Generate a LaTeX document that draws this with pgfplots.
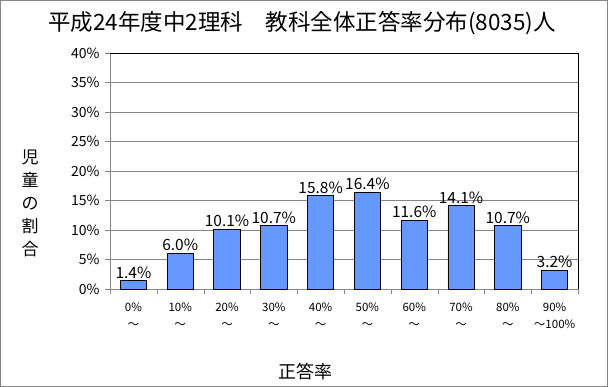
\documentclass[border=0pt]{standalone}
\usepackage{fontspec}
\setmainfont{Noto Sans CJK JP}
\usepackage{pgfplots}
\pgfplotsset{compat=1.18}
\definecolor{barblue}{HTML}{6699FF}
\definecolor{gridgray}{HTML}{868686}
\begin{document}
\begin{tikzpicture}[x=1pt,y=1pt]
\useasboundingbox (0,0) rectangle (608,387);
\draw[gridgray, line width=0.8pt] (0.5,0.5) rectangle (607.5,386.5);
\begin{axis}[
  at={(110pt,98pt)}, anchor=south west,
  scale only axis, width=468pt, height=236pt,
  xmin=-0.5, xmax=9.5, ymin=0, ymax=40,
  ytick={0,5,...,40},
  yticklabel={\pgfmathprintnumber[fixed,precision=0]{\tick}\%},
  /pgf/number format/assume math mode=true,
  ymajorgrids, grid style={gridgray, line width=0.6pt},
  xtick={0,...,9},
  xticklabels={0\%\\～,10\%\\～,20\%\\～,30\%\\～,40\%\\～,50\%\\～,60\%\\～,70\%\\～,80\%\\～,90\%\\～100\%},
  xticklabel style={align=center, font=\fontsize{11.5}{17}\selectfont, yshift=-5pt},
  minor xtick={-0.5,0.5,...,9.5},
  major x tick style={draw=none},
  minor x tick style={gridgray},
  minor tick length=5pt,
  major tick length=5pt,
  tick align=outside,
  xtick pos=bottom, ytick pos=left,
  y tick style={gridgray},
  yticklabel style={font=\fontsize{14}{16}\selectfont, xshift=-2pt},
  axis line style={gridgray},
  axis x line*=bottom, axis y line*=left,
  clip=false,
]
\addplot[ybar, bar width=0.56, fill=barblue, draw=black, line width=0.8pt,
  nodes near coords={\pgfmathprintnumber[fixed,fixed zerofill,precision=1]{\pgfplotspointmeta}\%},
  nodes near coords style={font=\fontsize{15.5}{17}\selectfont, black, inner sep=2pt}]
  coordinates {(0,1.4) (1,6.0) (2,10.1) (3,10.7) (4,15.8) (5,16.4) (6,11.6) (7,14.1) (8,10.7) (9,3.2)};
\draw[black, line width=0.8pt] (rel axis cs:0,1) -- (rel axis cs:1,1) -- (rel axis cs:1,0);
\end{axis}
\node[font=\fontsize{22.5}{24}\selectfont] at (302,364) {平成24年度中2理科\hspace{1em}教科全体正答率分布(8035)人};
\node[align=center, font=\fontsize{17}{23}\selectfont] at (30,184) {児\\童\\の\\割\\合};
\node[font=\fontsize{18}{20}\selectfont] at (305,15) {正答率};
\end{tikzpicture}
\end{document}
